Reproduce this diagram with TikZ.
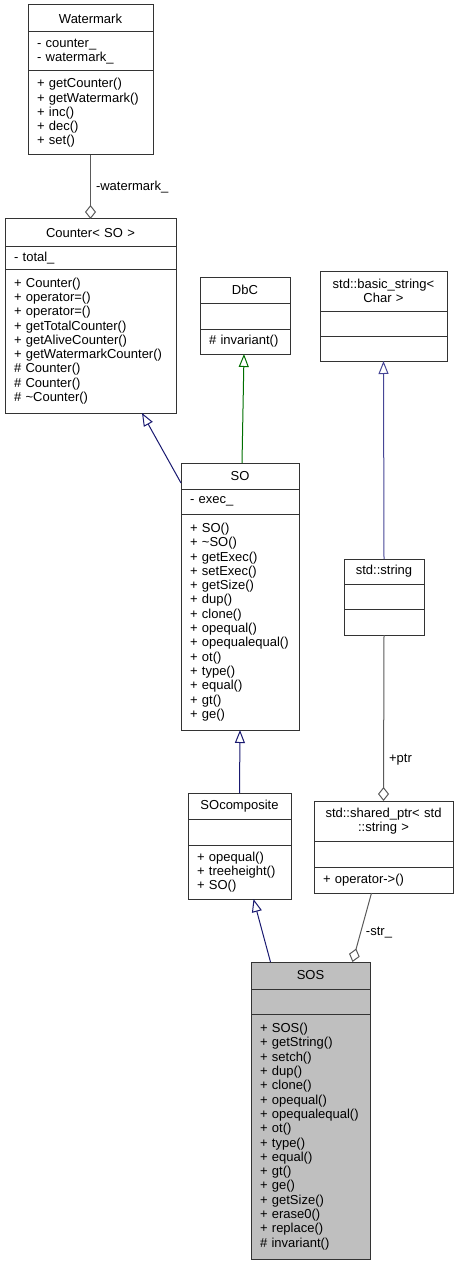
\documentclass[tikz,border=0pt]{standalone}
\usepackage{fontspec}
\setmainfont{Liberation Sans}
\usetikzlibrary{arrows.meta,positioning}
\definecolor{dxblue}{RGB}{25,25,112}
\definecolor{dxlightblue}{RGB}{70,70,150}
\definecolor{dxgreen}{RGB}{0,110,0}
\definecolor{dxgrey}{RGB}{90,90,90}
\definecolor{dxfill}{RGB}{191,191,191}
\newcommand{\dxfont}{\fontsize{13}{14.3}\selectfont}
\hyphenpenalty=10000
\exhyphenpenalty=10000
\tikzset{
    compart/.style={draw=black!80, line width=1pt, anchor=north west, inner xsep=9pt, inner ysep=0pt, outer sep=0pt, align=left, font=\dxfont},
    classname/.style={compart, inner xsep=4pt, align=center},
    inherit/.style={draw=dxblue, line width=1pt, -{Triangle[open,length=13pt,width=10pt]}},
    usage/.style={draw=dxgrey, line width=1pt, -{Diamond[open,length=14pt,width=11pt]}},
    edgelabel/.style={font=\dxfont, anchor=west, inner sep=0pt, xshift=5pt}
}
\begin{document}
\begin{tikzpicture}[x=1pt,y=-1pt]
    \useasboundingbox (0,0) rectangle (459,1265);

    % Watermark
    \node[classname, text width=117, minimum height=27] (wm) at (28,5) {Watermark};
    \node[compart, text width=107, minimum height=39, below=0pt of wm] (wm-attr) {- counter\_\\- watermark\_};
    \node[compart, text width=107, minimum height=84, below=0pt of wm-attr] (wm-ops) {+ getCounter()\\+ getWatermark()\\+ inc()\\+ dec()\\+ set()};

    % Counter< SO >
    \node[classname, text width=163, minimum height=28] (cnt) at (5,219) {Counter< SO >};
    \node[compart, text width=153, minimum height=22, below=0pt of cnt] (cnt-attr) {- total\_};
    \node[compart, text width=153, minimum height=144, below=0pt of cnt-attr] (cnt-ops) {+ Counter()\\+ operator=()\\+ operator=()\\+ getTotalCounter()\\+ getAliveCounter()\\+ getWatermarkCounter()\\\# Counter()\\\# Counter()\\\# \textasciitilde Counter()};

    % DbC
    \node[classname, text width=82, minimum height=26] (dbc) at (200,277) {DbC};
    \node[compart, text width=72, minimum height=26, below=0pt of dbc] (dbc-attr) {};
    \node[compart, text width=72, minimum height=25, below=0pt of dbc-attr] (dbc-ops) {\# invariant()};

    % std::basic_string< Char >
    \node[classname, text width=119, minimum height=40] (bs) at (320,271) {std::basic\_string<\\Char >};
    \node[compart, text width=109, minimum height=25, below=0pt of bs] (bs-attr) {};
    \node[compart, text width=109, minimum height=25, below=0pt of bs-attr] (bs-ops) {};

    % SO
    \node[classname, text width=110, minimum height=26] (so) at (181,463) {SO};
    \node[compart, text width=100, minimum height=25, below=0pt of so] (so-attr) {- exec\_};
    \node[compart, text width=100, minimum height=216, below=0pt of so-attr] (so-ops) {+ SO()\\+ \textasciitilde SO()\\+ getExec()\\+ setExec()\\+ getSize()\\+ dup()\\+ clone()\\+ opequal()\\+ opequalequal()\\+ ot()\\+ type()\\+ equal()\\+ gt()\\+ ge()};

    % std::string
    \node[classname, text width=72, minimum height=25] (str) at (344,559) {std::string};
    \node[compart, text width=62, minimum height=25, below=0pt of str] (str-attr) {};
    \node[compart, text width=62, minimum height=26, below=0pt of str-attr] (str-ops) {};

    % SOcomposite
    \node[classname, text width=95, minimum height=26] (soc) at (188,793) {SOcomposite};
    \node[compart, text width=85, minimum height=26, below=0pt of soc] (soc-attr) {};
    \node[compart, text width=85, minimum height=54, below=0pt of soc-attr] (soc-ops) {+ opequal()\\+ treeheight()\\+ SO()};

    % std::shared_ptr< std::string >
    \node[classname, text width=131, minimum height=40] (sp) at (314,801) {std::shared\_ptr< std\\::string >};
    \node[compart, text width=121, minimum height=26, below=0pt of sp] (sp-attr) {};
    \node[compart, text width=121, minimum height=26, below=0pt of sp-attr] (sp-ops) {+ operator->()};

    % SOS
    \node[classname, fill=dxfill, text width=111, minimum height=27] (sos) at (251,962) {SOS};
    \node[compart, fill=dxfill, text width=101, minimum height=25, below=0pt of sos] (sos-attr) {};
    \node[compart, fill=dxfill, text width=101, minimum height=245, below=0pt of sos-attr] (sos-ops) {+ SOS()\\+ getString()\\+ setch()\\+ dup()\\+ clone()\\+ opequal()\\+ opequalequal()\\+ ot()\\+ type()\\+ equal()\\+ gt()\\+ ge()\\+ getSize()\\+ erase0()\\+ replace()\\\# invariant()};

    % relations
    \draw[usage] (wm-ops.south) -- node[edgelabel, pos=0.5] {-watermark\_} (cnt.north);
    \draw[inherit] ([yshift=6pt]so.south west) -- ([xshift=-34pt]cnt-ops.south east);
    \draw[inherit, draw=dxgreen] ([xshift=2pt]so.north) -- ([xshift=-1pt]dbc-ops.south);
    \draw[inherit, draw=dxlightblue] (str.north) -- (bs-ops.south);
    \draw[inherit] (soc.north) -- (so-ops.south);
    \draw[usage] (str-ops.south) -- node[edgelabel, pos=0.75] {+ptr} (sp.north);
    \draw[inherit] ([xshift=-40pt]sos.north) -- ([xshift=14pt]soc-ops.south);
    \draw[usage] ([xshift=-12pt]sp-ops.south) -- node[edgelabel, pos=0.58] {-str\_} ([xshift=42pt]sos.north);
\end{tikzpicture}
\end{document}
